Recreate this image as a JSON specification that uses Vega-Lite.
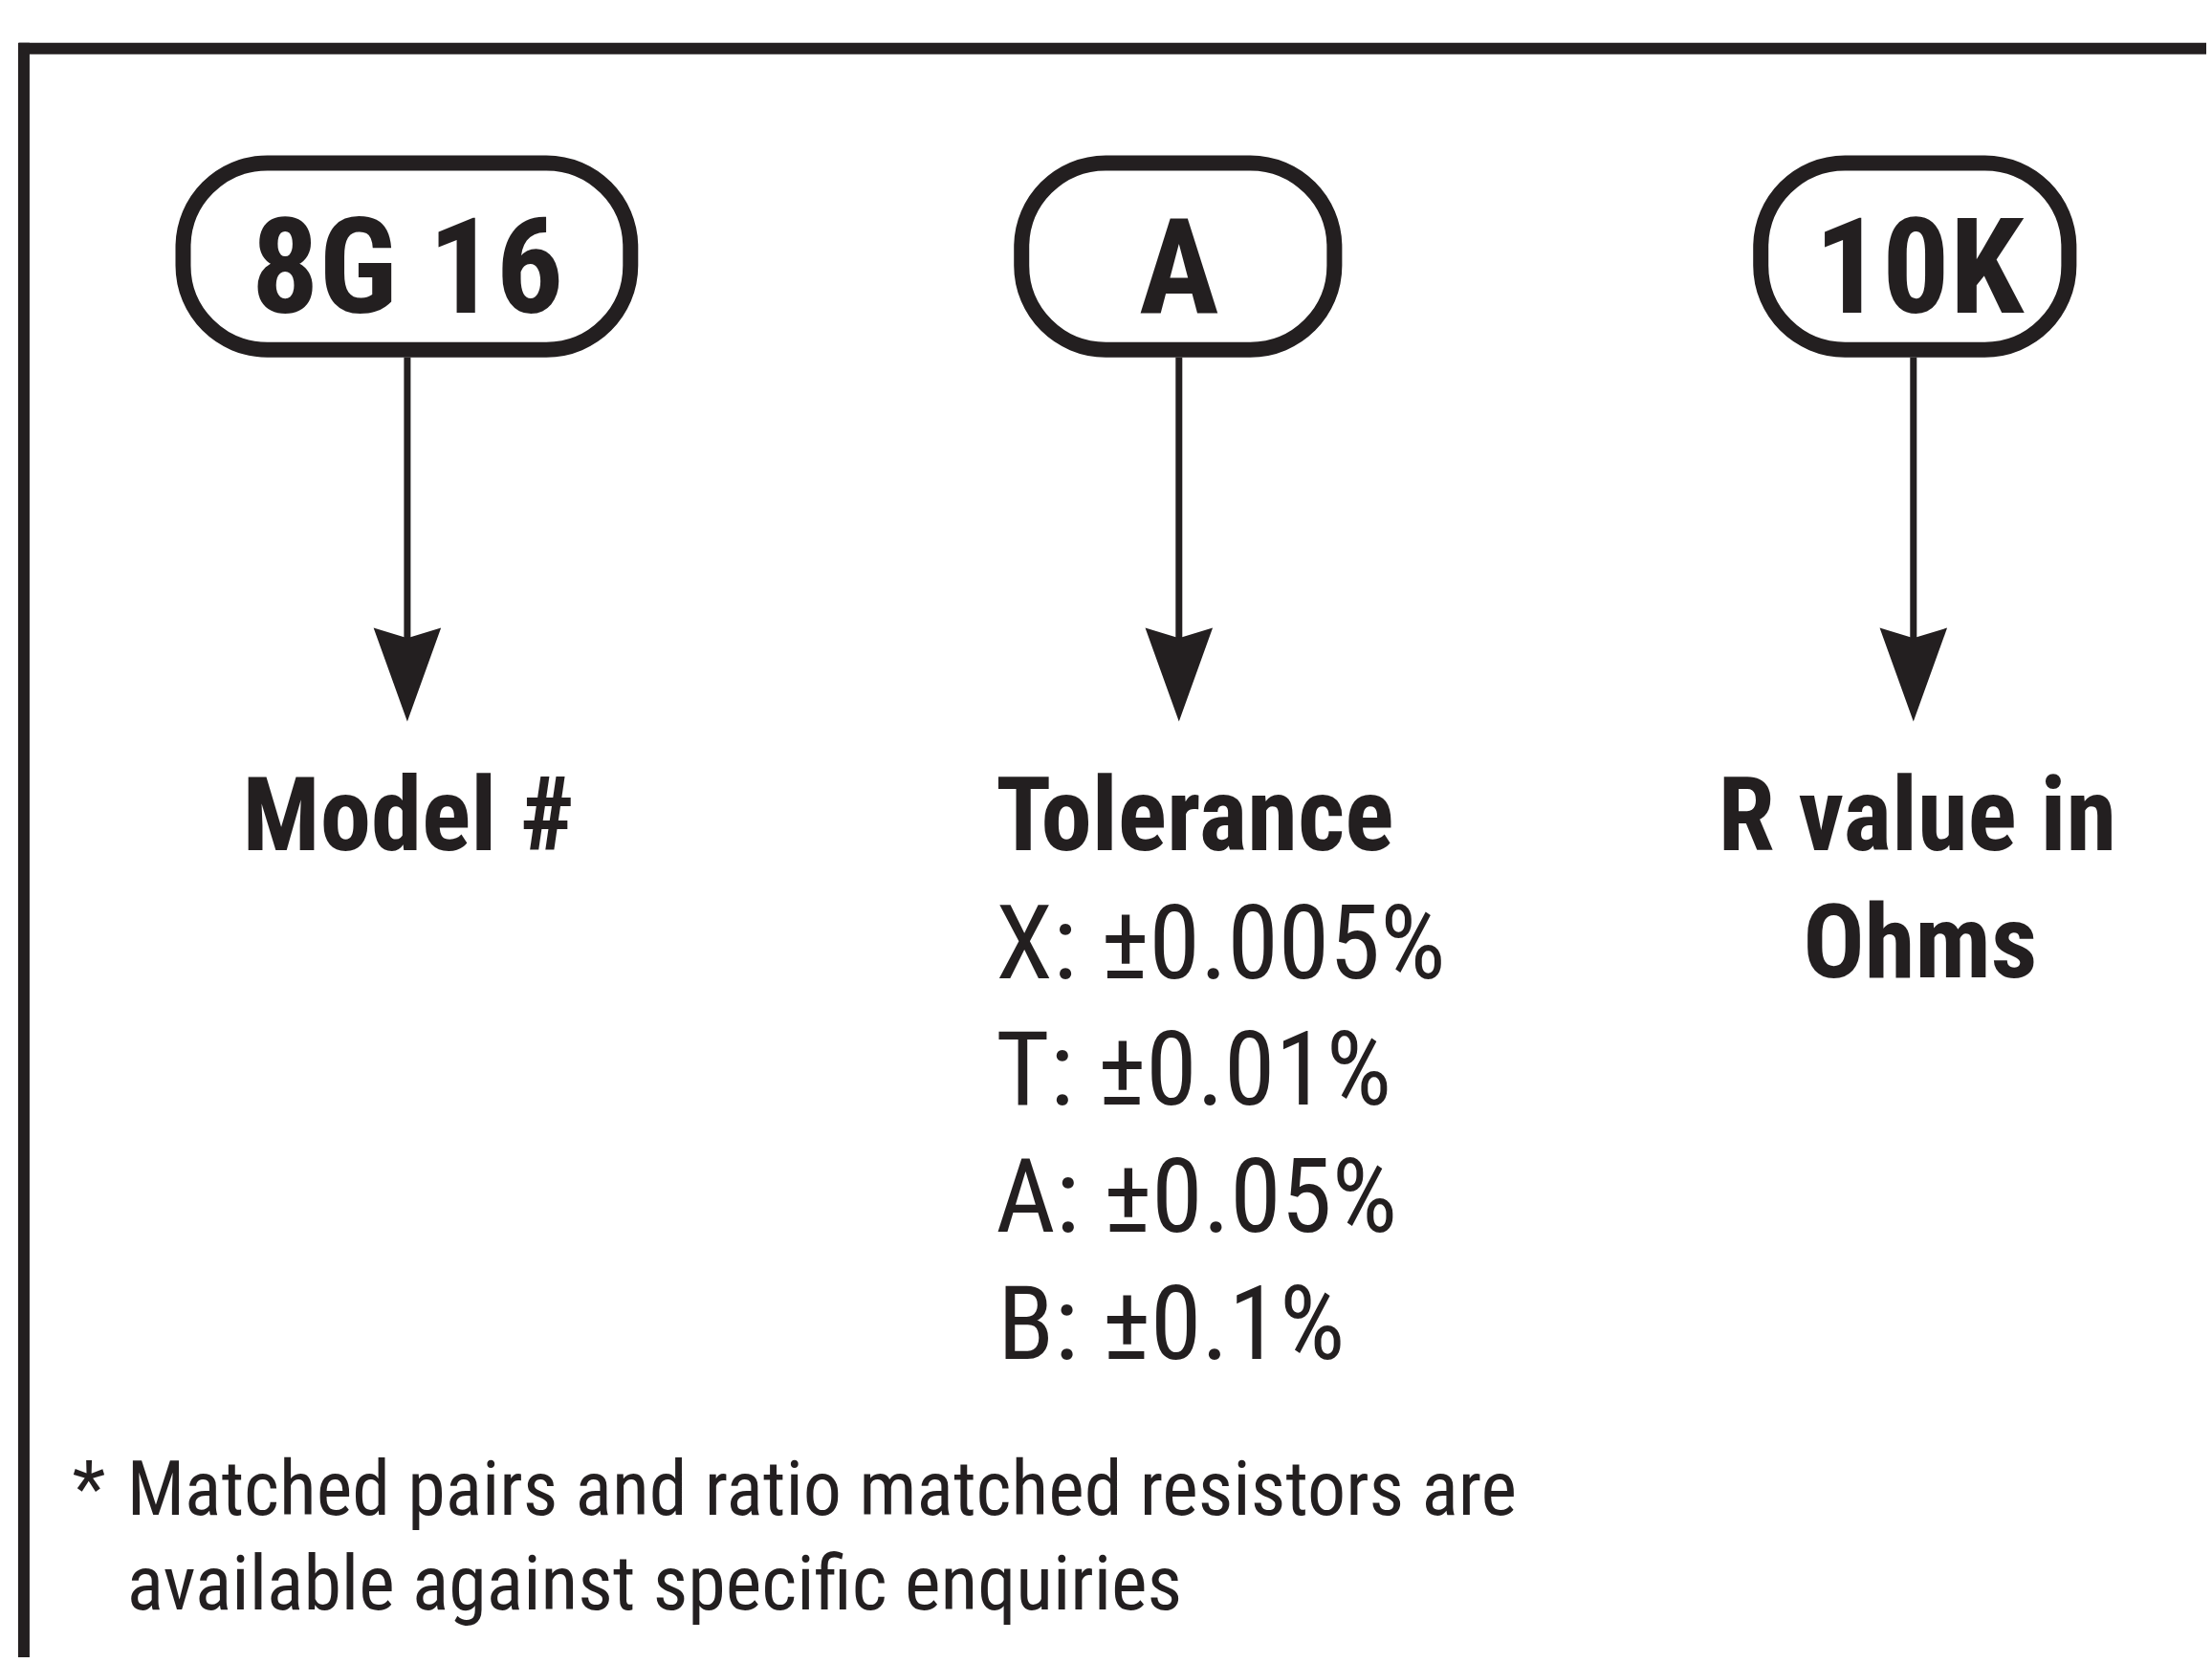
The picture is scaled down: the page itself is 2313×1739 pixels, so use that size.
{
  "$schema": "https://vega.github.io/schema/vega-lite/v6.json",
  "autosize": {"type": "fit", "contains": "padding"},
  "width": 2313,
  "height": 1739,
  "padding": 0,
  "background": "white",
  "config": {"view": {"stroke": null}},
  "encoding": {
    "x": {"type": "quantitative", "scale": {"domain": [0, 2313], "nice": false, "zero": false}, "axis": null},
    "y": {"type": "quantitative", "scale": {"domain": [0, 1739], "nice": false, "zero": false, "reverse": true}, "axis": null}
  },
  "layer": [
    {
      "data": {"values": [
        {"part": "top", "x1": 20, "x2": 2313, "y1": 51, "y2": 51},
        {"part": "left", "x1": 25, "x2": 25, "y1": 45, "y2": 1739}
      ]},
      "mark": {"type": "rule", "color": "#231f20", "strokeWidth": 12},
      "encoding": {
        "x": {"field": "x1", "type": "quantitative"},
        "x2": {"field": "x2"},
        "y": {"field": "y1", "type": "quantitative"},
        "y2": {"field": "y2"}
      }
    },
    {
      "data": {"values": [
        {"item": "model", "x": 427, "y1": 375, "y2": 675},
        {"item": "tolerance", "x": 1236, "y1": 375, "y2": 675},
        {"item": "rvalue", "x": 2006, "y1": 375, "y2": 675}
      ]},
      "mark": {"type": "rule", "color": "#231f20", "strokeWidth": 7},
      "encoding": {
        "x": {"field": "x", "type": "quantitative"},
        "y": {"field": "y1", "type": "quantitative"},
        "y2": {"field": "y2"}
      }
    },
    {
      "data": {"values": [
        {"item": "model", "x": 427, "y": 708},
        {"item": "tolerance", "x": 1236, "y": 708},
        {"item": "rvalue", "x": 2006, "y": 708}
      ]},
      "mark": {"type": "point", "filled": true, "color": "#231f20", "opacity": 1, "strokeWidth": 0, "size": 9604, "shape": "M0,1L-0.72,-1L0,-0.78L0.72,-1Z"},
      "encoding": {
        "x": {"field": "x", "type": "quantitative"},
        "y": {"field": "y", "type": "quantitative"}
      }
    },
    {
      "data": {"values": [
        {"item": "model", "x1": 192, "x2": 661, "y1": 171, "y2": 367},
        {"item": "tolerance", "x1": 1071, "x2": 1399, "y1": 171, "y2": 367},
        {"item": "rvalue", "x1": 1846, "x2": 2169, "y1": 171, "y2": 367}
      ]},
      "mark": {"type": "rect", "fill": "white", "fillOpacity": 0, "stroke": "#231f20", "strokeWidth": 16, "cornerRadius": 88},
      "encoding": {
        "x": {"field": "x1", "type": "quantitative"},
        "x2": {"field": "x2"},
        "y": {"field": "y1", "type": "quantitative"},
        "y2": {"field": "y2"}
      }
    },
    {
      "data": {"values": [
        {"label": "8G 16", "x": 427, "y": 328},
        {"label": "A", "x": 1236, "y": 328},
        {"label": "10K", "x": 2012, "y": 328}
      ]},
      "mark": {"type": "text", "align": "center", "baseline": "alphabetic", "font": "'Roboto Condensed', 'Liberation Sans Narrow', Roboto, sans-serif", "fontWeight": "bold", "fontSize": 140, "color": "#231f20"},
      "encoding": {
        "x": {"field": "x", "type": "quantitative"},
        "y": {"field": "y", "type": "quantitative"},
        "text": {"field": "label"}
      }
    },
    {
      "data": {"values": [
        {"label": "Model #", "x": 428, "y": 892},
        {"label": "R value in", "x": 2010, "y": 892},
        {"label": "Ohms", "x": 2013, "y": 1026}
      ]},
      "mark": {"type": "text", "align": "center", "baseline": "alphabetic", "font": "'Roboto Condensed', 'Liberation Sans Narrow', Roboto, sans-serif", "fontWeight": "bold", "fontSize": 107, "color": "#231f20"},
      "encoding": {
        "x": {"field": "x", "type": "quantitative"},
        "y": {"field": "y", "type": "quantitative"},
        "text": {"field": "label"}
      }
    },
    {
      "data": {"values": [
        {"label": "Tolerance", "x": 1044, "y": 892}
      ]},
      "mark": {"type": "text", "align": "left", "baseline": "alphabetic", "font": "'Roboto Condensed', 'Liberation Sans Narrow', Roboto, sans-serif", "fontWeight": "bold", "fontSize": 107, "color": "#231f20"},
      "encoding": {
        "x": {"field": "x", "type": "quantitative"},
        "y": {"field": "y", "type": "quantitative"},
        "text": {"field": "label"}
      }
    },
    {
      "data": {"values": [
        {"label": "X: ±0.005%", "x": 1044, "y": 1027},
        {"label": "T: ±0.01%", "x": 1044, "y": 1159},
        {"label": "A: ±0.05%", "x": 1044, "y": 1292},
        {"label": "B: ±0.1%", "x": 1046, "y": 1426}
      ]},
      "mark": {"type": "text", "align": "left", "baseline": "alphabetic", "font": "'Roboto Condensed', 'Liberation Sans Narrow', Roboto, sans-serif", "fontWeight": "normal", "fontSize": 108, "color": "#231f20"},
      "encoding": {
        "x": {"field": "x", "type": "quantitative"},
        "y": {"field": "y", "type": "quantitative"},
        "text": {"field": "label"}
      }
    },
    {
      "data": {"values": [
        {"label": "*", "x": 76, "y": 1589},
        {"label": "Matched pairs and ratio matched resistors are", "x": 133, "y": 1589},
        {"label": "available against specific enquiries", "x": 133, "y": 1689}
      ]},
      "mark": {"type": "text", "align": "left", "baseline": "alphabetic", "font": "'Roboto Condensed', 'Liberation Sans Narrow', Roboto, sans-serif", "fontWeight": "normal", "fontSize": 80, "color": "#231f20"},
      "encoding": {
        "x": {"field": "x", "type": "quantitative"},
        "y": {"field": "y", "type": "quantitative"},
        "text": {"field": "label"}
      }
    }
  ]
}
